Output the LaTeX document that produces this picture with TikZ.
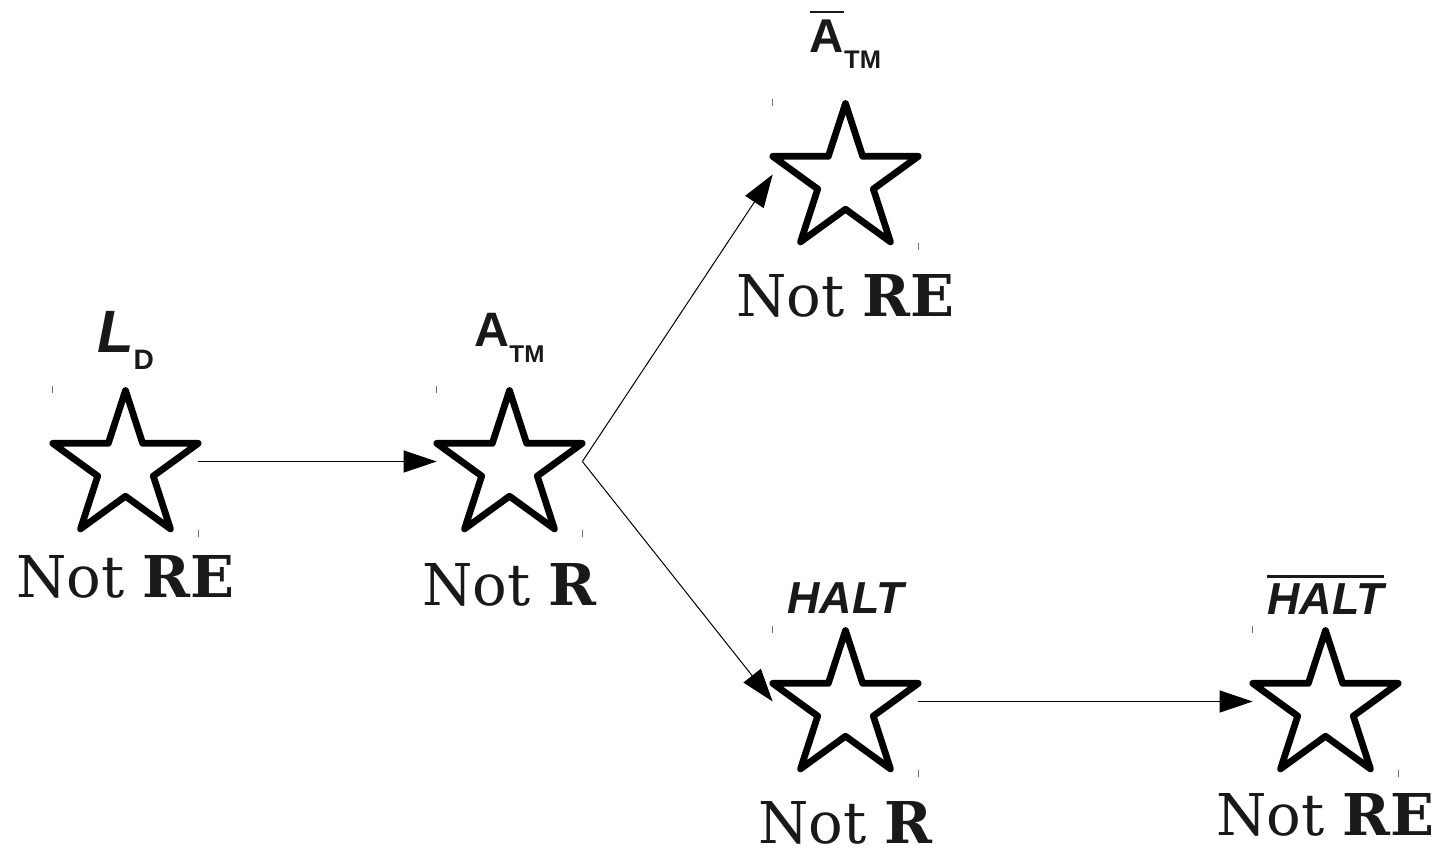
\documentclass[tikz,border=0pt]{standalone}
\usepackage{fontspec}
\setmainfont{DejaVu Serif}
\newfontfamily\labelFont{Liberation Sans}
\usetikzlibrary{shapes, positioning, arrows.meta, calc}
\colorlet{drawColor}{black}
\colorlet{textColor}{black!90}
\colorlet{markColor}{black!55}
\tikzstyle{bbox}=[rectangle, minimum width=2.9cm, minimum height=2.86cm, inner sep=0pt]
\tikzstyle{fStar}=[star, star points=5, star point ratio=2.618, minimum size=3.06cm,
inner sep=0pt, draw=drawColor, line width=0.135cm, line join=round]
\tikzstyle{langName}=[font=\labelFont\bfseries, text=textColor, anchor=base, inner sep=0pt]
\tikzstyle{status}=[font=\fontsize{32.8}{32.8}\selectfont, text=textColor, anchor=base, inner sep=0pt]
\tikzstyle{arrow}=[-{Triangle[length=0.66cm, width=0.44cm]}, line width=0.02cm, draw=drawColor]
\tikzstyle{corner}=[line width=0.02cm, draw=markColor]
% bar over a piece of label text: #1 gap, #2 text
\newcommand{\barred}[2]{\leavevmode\vbox{\hrule height 1.4pt\kern #1\hbox{#2}}}

\begin{document}
\begin{tikzpicture}
  \useasboundingbox (0,0) rectangle (28.78,17.02);
  % frames the arrows attach to
  \node (ld) [bbox] at (2.51,7.79) {};
  \node (atm) [bbox] at (10.19,7.79) {};
  \node (atmBar) [bbox] at (16.91,13.53) {};
  \node (halt) [bbox] at (16.91,2.99) {};
  \node (haltBar) [bbox] at (26.51,2.99) {};
  % the stars and their corner marks
  \foreach \n in {ld, atm, atmBar, halt, haltBar} {
    \node (\n-star) [fStar, yshift=-0.11cm] at (\n.center) {};
    \draw[corner] ($(\n.north west)+(0,-0.07)$) -- ++(0,0.14);
    \draw[corner] ($(\n.south east)+(0,-0.07)$) -- ++(0,0.14);
  }
  % names above
  \node (ldName) [above=0.74cm of ld, langName]
    {\fontsize{34}{34}\selectfont\itshape L\raisebox{-9.7pt}{\fontsize{16}{16}\selectfont\upshape D}};
  \node (atmName) [above=0.86cm of atm, langName]
    {\fontsize{27.5}{27.5}\selectfont A\raisebox{-9pt}{\fontsize{13.8}{13.8}\selectfont TM}};
  \node (atmBarName) [above=1cm of atmBar, langName]
    {\fontsize{27}{27}\selectfont\barred{4pt}{A}\raisebox{-9pt}{\fontsize{14.5}{14.5}\selectfont TM}};
  \node (haltName) [above=0.32cm of halt, langName]
    {\fontsize{25.5}{25.5}\selectfont\itshape HALT};
  \node (haltBarName) [above=0.3cm of haltBar, langName]
    {\fontsize{25.5}{25.5}\selectfont\itshape\barred{3.4pt}{HALT}};
  % status below
  \node (ldStatus) [below=1.28cm of ld, status] {Not \textbf{RE}};
  \node (atmStatus) [below=1.44cm of atm, status] {Not \textbf{R}};
  \node (atmBarStatus) [below=1.4cm of atmBar, status] {Not \textbf{RE}};
  \node (haltStatus) [below=1.4cm of halt, status] {Not \textbf{R}};
  \node (haltBarStatus) [below=1.24cm of haltBar, status] {Not \textbf{RE}};
  % reductions
  \draw[arrow] (ld.east) -- (atm.west);
  \draw[arrow] (atm.east) -- (atmBar.west);
  \draw[arrow] (atm.east) -- (halt.west);
  \draw[arrow] (halt.east) -- (haltBar.west);
\end{tikzpicture}
\end{document}
